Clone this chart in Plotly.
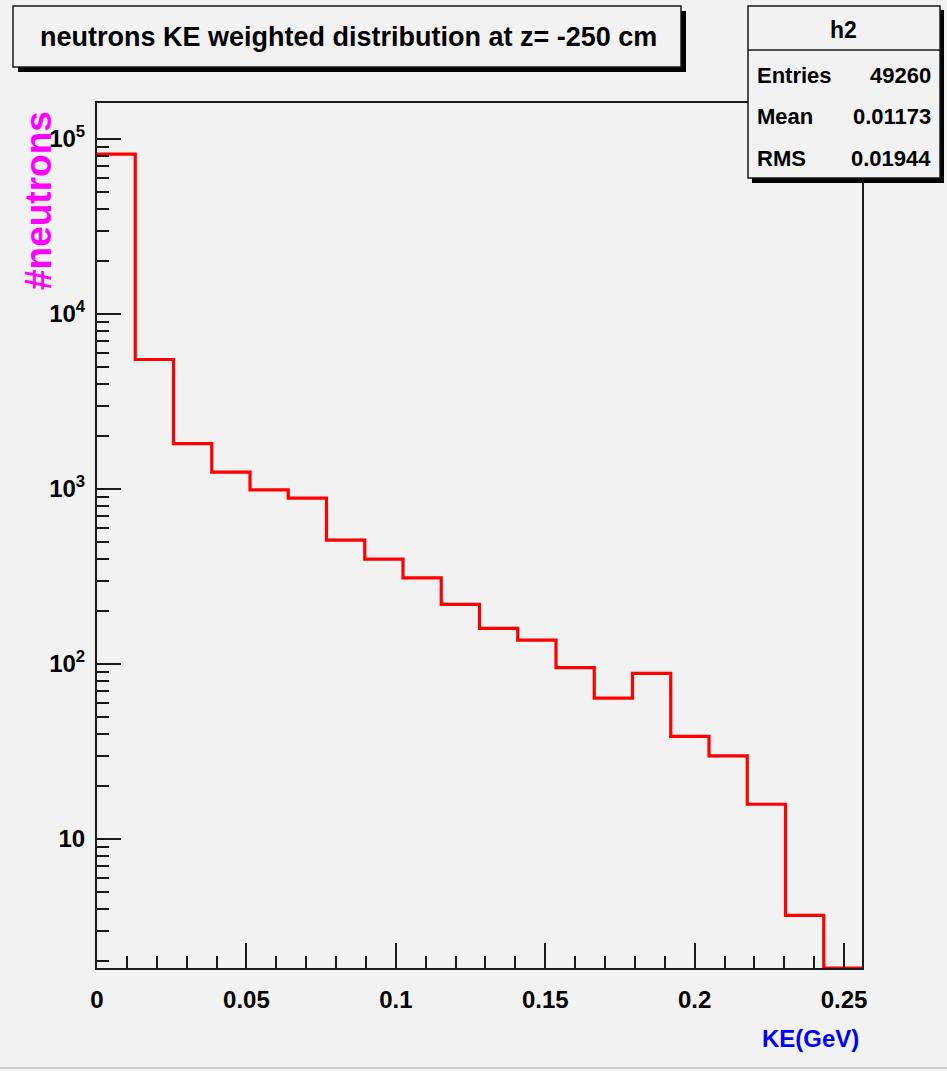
import plotly.graph_objects as go

# ---- data ----
bin_edges = [0.0, 0.0128, 0.0256, 0.0384, 0.0512, 0.064, 0.0768, 0.0896, 0.1024, 0.1152,
             0.128, 0.1408, 0.1536, 0.1664, 0.1792, 0.192, 0.2048, 0.2176, 0.2304, 0.2432, 0.256]
counts = [81900, 5500, 1820, 1250, 990, 887, 510, 398, 311, 219,
          160, 137, 95.5, 63.8, 88.5, 38.6, 29.9, 15.8, 3.66, 0]
title_text = "neutrons KE weighted distribution at z= -250 cm"
stats_name = "h2"
stats_labels = ["Entries", "Mean", "RMS"]
stats_values = ["49260", "0.01173", "0.01944"]
ytick_vals = [10, 100, 1000, 10000, 100000]
ytick_text = ["<b>10</b>", "<b>10<sup>2</sup></b>", "<b>10<sup>3</sup></b>", "<b>10<sup>4</sup></b>", "<b>10<sup>5</sup></b>"]
xtick_vals = [0, 0.05, 0.1, 0.15, 0.2, 0.25]
xtick_text = ["<b>0</b>", "<b>0.05</b>", "<b>0.1</b>", "<b>0.15</b>", "<b>0.2</b>", "<b>0.25</b>"]

W, H = 947, 1071
L, R, T, B = 97, 862, 103, 968
ylog_min, ylog_max = 0.263, 5.206
ymin = 10 ** ylog_min

FONT = "Liberation Sans, Arial, sans-serif"
BG = "#f2f2f2"

def px(x):
    return (x - L) / (R - L)

def py(y):
    return (B - y) / (B - T)

# histogram step line (empty bins drawn at the axis minimum like ROOT)
ys = [c if c > 0 else ymin for c in counts]
xs = list(bin_edges)
ys_step = ys + [ys[-1]]

fig = go.Figure()
fig.add_trace(go.Scatter(x=xs, y=ys_step, mode="lines", line_shape="hv",
                         line=dict(color="#ff0000", width=3.2), hoverinfo="skip",
                         showlegend=False, cliponaxis=True))

minor_y = []
for d in range(0, 6):
    for m in range(2, 10):
        minor_y.append(m * 10 ** d)

fig.update_layout(
    width=W, height=H,
    margin=dict(l=L, r=W - R, t=T, b=H - B, pad=0),
    paper_bgcolor=BG, plot_bgcolor=BG,
    font=dict(family=FONT, color="#000000"),
    showlegend=False,
)
fig.update_xaxes(
    range=[0, 0.256], showgrid=False, zeroline=False,
    showline=True, linecolor="#1a1a1a", linewidth=2, mirror=True,
    ticks="inside", ticklen=25, tickwidth=2, tickcolor="#1a1a1a",
    tickmode="array", tickvals=xtick_vals, ticktext=xtick_text,
    tickfont=dict(size=24, family=FONT, color="#000"),
    ticklabelstandoff=9,
    minor=dict(ticks="inside", ticklen=12, tickwidth=2, tickcolor="#1a1a1a", dtick=0.01, tick0=0, showgrid=False),
)
fig.update_yaxes(
    type="log", range=[ylog_min, ylog_max], showgrid=False, zeroline=False,
    showline=True, linecolor="#1a1a1a", linewidth=2, mirror=True,
    ticks="inside", ticklen=24, tickwidth=2, tickcolor="#1a1a1a",
    tickmode="array", tickvals=ytick_vals, ticktext=ytick_text,
    tickfont=dict(size=24, family=FONT, color="#000"),
    ticklabelstandoff=5,
    minor=dict(ticks="inside", ticklen=12, tickwidth=2, tickcolor="#1a1a1a",
               tickmode="array", tickvals=minor_y, showgrid=False),
)

shapes = []
# title box with shadow
shapes.append(dict(type="rect", xref="paper", yref="paper", x0=px(18), x1=px(686), y0=py(11), y1=py(72),
                   fillcolor="#000", line=dict(width=0), layer="above"))
shapes.append(dict(type="rect", xref="paper", yref="paper", x0=px(13), x1=px(681), y0=py(6), y1=py(67),
                   fillcolor=BG, line=dict(color="#1a1a1a", width=1.5), layer="above"))
# stats box with shadow
shapes.append(dict(type="rect", xref="paper", yref="paper", x0=px(752), x1=px(944), y0=py(10), y1=py(183),
                   fillcolor="#000", line=dict(width=0), layer="above"))
shapes.append(dict(type="rect", xref="paper", yref="paper", x0=px(748), x1=px(940), y0=py(6), y1=py(178),
                   fillcolor=BG, line=dict(color="#1a1a1a", width=1.5), layer="above"))
shapes.append(dict(type="line", xref="paper", yref="paper", x0=px(748), x1=px(940), y0=py(50), y1=py(50),
                   line=dict(color="#1a1a1a", width=1.5), layer="above"))
# faint bottom canvas edge
shapes.append(dict(type="line", xref="paper", yref="paper", x0=px(0), x1=px(947), y0=py(1068), y1=py(1068),
                   line=dict(color="#cfcfcf", width=2), layer="above"))
fig.update_layout(shapes=shapes)

ann = []
ann.append(dict(text="<b>" + title_text + "</b>", xref="paper", yref="paper", x=px(348), y=py(37),
                xanchor="center", yanchor="middle", showarrow=False,
                font=dict(size=27, family=FONT, color="#000")))
ann.append(dict(text="<b>" + stats_name + "</b>", xref="paper", yref="paper", x=px(843), y=py(30),
                xanchor="center", yanchor="middle", showarrow=False,
                font=dict(size=23, family=FONT, color="#000")))
row_y = [75, 116, 159]
for lab, val, yy in zip(stats_labels, stats_values, row_y):
    ann.append(dict(text="<b>" + lab + "</b>", xref="paper", yref="paper", x=px(755), y=py(yy),
                    xanchor="left", yanchor="middle", showarrow=False,
                    font=dict(size=22, family=FONT, color="#000")))
    ann.append(dict(text="<b>" + val + "</b>", xref="paper", yref="paper", x=px(933), y=py(yy),
                    xanchor="right", yanchor="middle", showarrow=False,
                    font=dict(size=22, family=FONT, color="#000")))
ann.append(dict(text="<b>KE(GeV)</b>", xref="paper", yref="paper", x=px(861), y=py(1038),
                xanchor="right", yanchor="middle", showarrow=False,
                font=dict(size=24, family=FONT, color="#0000ff")))
ann.append(dict(text="<b>#neutrons</b>", xref="paper", yref="paper", x=px(38), y=py(201),
                xanchor="center", yanchor="middle", showarrow=False, textangle=-90,
                font=dict(size=37, family=FONT, color="#ff00ff")))
fig.update_layout(annotations=ann)

fig.write_html("out.html")
